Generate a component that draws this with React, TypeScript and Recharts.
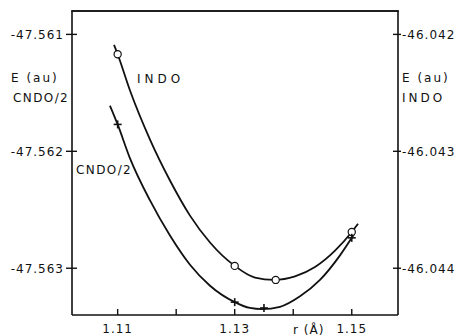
import { ComposedChart, Line, Scatter, XAxis, YAxis } from 'recharts';

// r in Angstrom, energies in au
const rTicks = [1.11, 1.12, 1.13, 1.14, 1.15];
const rTickLabels = ['1.11', '', '1.13', '', '1.15'];
const cndoTicks = [-47.561, -47.562, -47.563];
const cndoTickLabels = ['-47.561', '-47.562', '-47.563'];
const indoTicks = [-46.042, -46.043, -46.044];
const indoTickLabels = ['-46.042', '-46.043', '-46.044'];

// computed points (markers)
const indoR = [1.11, 1.13, 1.137, 1.15];
const indoE = [-46.04217, -46.04398, -46.0441, -46.04369];
const cndoR = [1.11, 1.13, 1.135, 1.15];
const cndoE = [-47.56177, -47.56329, -47.56334, -47.56274];

// fitted curves
const indoCurveR = [1.10938, 1.11, 1.11211, 1.11553, 1.11894, 1.12236, 1.12578, 1.13, 1.13347, 1.13671, 1.1403, 1.14372, 1.14714, 1.15, 1.15107];
const indoCurveE = [-46.04209, -46.04217, -46.04248, -46.0429, -46.04325, -46.04355, -46.04378, -46.04398, -46.04408, -46.0441, -46.04407, -46.04399, -46.04385, -46.04369, -46.04362];
const cndoCurveR = [1.10869, 1.11, 1.11211, 1.11553, 1.11894, 1.12236, 1.12578, 1.13, 1.13261, 1.13466, 1.13774, 1.14116, 1.14457, 1.14799, 1.15, 1.15038];
const cndoCurveE = [-47.56161, -47.56177, -47.56206, -47.56242, -47.56272, -47.56297, -47.56315, -47.56329, -47.56334, -47.56335, -47.56333, -47.56324, -47.5631, -47.56289, -47.56274, -47.56271];

const R_DOMAIN = [1.1022, 1.1579];
const CNDO_DOMAIN = [-47.5634, -47.5608];
const INDO_DOMAIN = [-46.0444, -46.0418];

const zip = (xs: number[], ys: number[]) => xs.map((x, i) => ({ x, y: ys[i] }));

const indoPoints = zip(indoR, indoE);
const cndoPoints = zip(cndoR, cndoE);
const indoCurve = zip(indoCurveR, indoCurveE);
const cndoCurve = zip(cndoCurveR, cndoCurveE);

const FONT = '"DejaVu Sans", sans-serif';
const INK = '#111';

const BottomTick = (props: any) => {
  const { x, y, index } = props;
  return (
    <g>
      <line x1={x} y1={y} x2={x} y2={y - 6} stroke={INK} strokeWidth={1.4} />
      <text x={x} y={y + 18} textAnchor="middle" fontSize={12} fontFamily={FONT} letterSpacing={1} fill={INK}>
        {rTickLabels[index]}
      </text>
    </g>
  );
};

const LeftTick = (props: any) => {
  const { x, y, index } = props;
  return (
    <g>
      <line x1={x - 6} y1={y} x2={x + 5} y2={y} stroke={INK} strokeWidth={1.4} />
      <text x={x - 8} y={y + 4.5} textAnchor="end" fontSize={12} fontFamily={FONT} letterSpacing={1} fill={INK}>
        {cndoTickLabels[index]}
      </text>
    </g>
  );
};

const RightTick = (props: any) => {
  const { x, y, index } = props;
  return (
    <g>
      <line x1={x - 5} y1={y} x2={x + 3} y2={y} stroke={INK} strokeWidth={1.4} />
      <text x={x + 4} y={y + 4.5} textAnchor="start" fontSize={12} fontFamily={FONT} letterSpacing={1} fill={INK}>
        {indoTickLabels[index]}
      </text>
    </g>
  );
};

const Circle = (props: any) => {
  const { cx, cy } = props;
  return <circle cx={cx} cy={cy} r={3.6} fill="#fff" stroke={INK} strokeWidth={1.2} />;
};

const Plus = (props: any) => {
  const { cx, cy } = props;
  return (
    <g stroke={INK} strokeWidth={1.6}>
      <line x1={cx - 4} y1={cy} x2={cx + 4} y2={cy} />
      <line x1={cx} y1={cy - 4} x2={cx} y2={cy + 4} />
    </g>
  );
};

const textStyle = { fontSize: 12, fontFamily: FONT, fill: INK };

export default function App() {
  return (
    <div style={{ position: 'absolute', left: 0, top: 0, width: 459, height: 336, background: '#fff' }}>
      <ComposedChart width={459} height={336} margin={{ top: 1, right: 0, bottom: 0, left: 0 }}>
        <XAxis
          xAxisId="bottom"
          dataKey="x"
          type="number"
          domain={R_DOMAIN}
          ticks={rTicks}
          allowDataOverflow
          height={21}
          tickSize={0}
          tickMargin={0}
          tickLine={false}
          axisLine={{ stroke: INK, strokeWidth: 1.6 }}
          tick={<BottomTick />}
          interval={0}
        />
        <XAxis
          xAxisId="top"
          orientation="top"
          dataKey="x"
          type="number"
          domain={R_DOMAIN}
          ticks={rTicks}
          allowDataOverflow
          height={10}
          stroke={INK}
          strokeWidth={1.5}
          tickSize={-5}
          tick={false}
          interval={0}
        />
        <YAxis
          yAxisId="cndo"
          orientation="left"
          type="number"
          domain={CNDO_DOMAIN}
          ticks={cndoTicks}
          allowDataOverflow
          width={72}
          tickSize={0}
          tickMargin={0}
          tickLine={false}
          axisLine={{ stroke: INK, strokeWidth: 1.6 }}
          tick={<LeftTick />}
          interval={0}
        />
        <YAxis
          yAxisId="indo"
          orientation="right"
          type="number"
          domain={INDO_DOMAIN}
          ticks={indoTicks}
          allowDataOverflow
          width={61}
          tickSize={0}
          tickMargin={0}
          tickLine={false}
          axisLine={{ stroke: INK, strokeWidth: 1.6 }}
          tick={<RightTick />}
          interval={0}
        />
        {/* transparent series tied to the top axis so it is drawn as the frame */}
        <Line
          data={indoCurve}
          xAxisId="top"
          yAxisId="indo"
          dataKey="y"
          stroke="transparent"
          dot={false}
          activeDot={false}
          isAnimationActive={false}
        />
        <Line
          data={indoCurve}
          xAxisId="bottom"
          yAxisId="indo"
          dataKey="y"
          type="monotone"
          stroke={INK}
          strokeWidth={1.8}
          dot={false}
          isAnimationActive={false}
        />
        <Line
          data={cndoCurve}
          xAxisId="bottom"
          yAxisId="cndo"
          dataKey="y"
          type="monotone"
          stroke={INK}
          strokeWidth={1.8}
          dot={false}
          isAnimationActive={false}
        />
        <Scatter
          data={indoPoints}
          xAxisId="bottom"
          yAxisId="indo"
          dataKey="y"
          shape={<Circle />}
          isAnimationActive={false}
        />
        <Scatter
          data={cndoPoints}
          xAxisId="bottom"
          yAxisId="cndo"
          dataKey="y"
          shape={<Plus />}
          isAnimationActive={false}
        />
      </ComposedChart>
      <svg width={459} height={336} style={{ position: 'absolute', left: 0, top: 0, pointerEvents: 'none' }}>
        {/* top edge of the frame */}
        <line x1={71} y1={11} x2={399} y2={11} stroke={INK} strokeWidth={1.6} />
        <text x={11} y={81.5} {...textStyle} letterSpacing={2}>E (au)</text>
        <text x={13} y={101.5} {...textStyle} letterSpacing={1.4}>CNDO/2</text>
        <text x={402} y={81.5} {...textStyle} letterSpacing={2}>E (au)</text>
        <text x={402} y={101.5} {...textStyle} letterSpacing={3}>INDO</text>
        <text x={137} y={82.5} {...textStyle} letterSpacing={4}>INDO</text>
        <text x={76} y={173.5} {...textStyle} letterSpacing={1.4}>CNDO/2</text>
        <text x={293} y={333.5} {...textStyle} letterSpacing={1}>r (Å)</text>
      </svg>
    </div>
  );
}
